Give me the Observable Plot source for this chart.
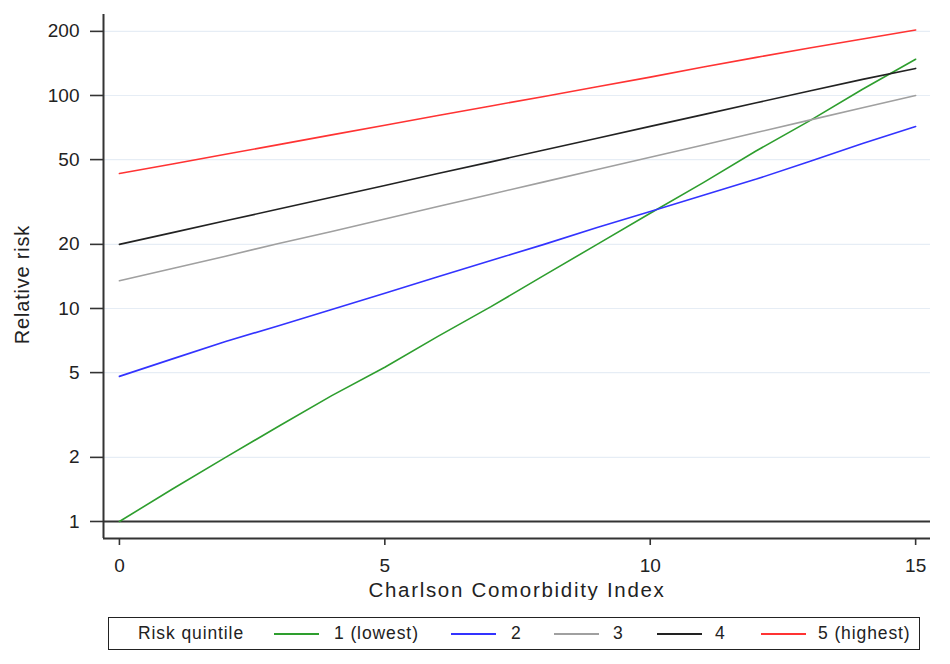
<!DOCTYPE html>
<html>
<head>
<meta charset="utf-8">
<script src="https://cdn.jsdelivr.net/npm/d3@7"></script>
<script src="https://cdn.jsdelivr.net/npm/@observablehq/plot@0.6"></script>
<style>
  html, body { margin: 0; padding: 0; background: #fff; }
  #wrap { position: relative; width: 950px; height: 664px; font-family: "Liberation Sans", Arial, sans-serif; color: #222; }
  #legend { position: absolute; left: 108px; top: 617px; width: 810px; height: 31px; border: 1.5px solid #222; box-sizing: content-box; }
  .lg { position: absolute; top: 0; height: 31px; line-height: 31px; font-size: 17.5px; letter-spacing: 0.9px; white-space: nowrap; }
  .sw { position: absolute; top: 15px; height: 2px; width: 45px; }
</style>
</head>
<body>
<div id="wrap"></div>
<script>
// ---- data ----
const cci = [0,1,2,3,4,5,6,7,8,9,10,11,12,13,14,15];
const seriesNames = ["1 (lowest)", "2", "3", "4", "5 (highest)"];
const seriesColors = ["#2e9e2e", "#3333ff", "#a0a0a0", "#222222", "#ff3333"];
const q1 = [1, 1.42, 2.0, 2.8, 3.9, 5.3, 7.4, 10.2, 14.3, 20, 28, 39, 55, 76, 107, 148];
const q2 = [4.8, 5.8, 7.0, 8.3, 9.9, 11.8, 14.1, 16.8, 20, 24, 28.5, 34, 40.5, 49, 59.5, 71.5];
const q3 = [13.5, 15.4, 17.6, 20.2, 23.0, 26.3, 30.1, 34.4, 39.3, 44.9, 51.3, 58.6, 67, 76.6, 87.5, 100];
const q4 = [20, 22.7, 25.8, 29.3, 33.3, 37.8, 43, 48.8, 55.5, 63, 71.6, 81.3, 92.4, 105, 119, 134];
const q5 = [43, 47.7, 53, 58.8, 65.3, 72.5, 80.5, 89.3, 99, 110, 122, 136, 151, 167, 184, 203];
const yTicks = [1, 2, 5, 10, 20, 50, 100, 200];
const xTicks = [0, 5, 10, 15];
const xTitle = "Charlson Comorbidity Index";
const yTitle = "Relative risk";
const legendTitle = "Risk quintile";

const allSeries = [q1, q2, q3, q4, q5];
const rows = [];
allSeries.forEach((vals, i) => vals.forEach((v, j) => rows.push({x: cci[j], y: v, s: seriesNames[i]})));

const xDomain = [-0.3, 15.28];
const yDomain = [0.832, 240];

const chart = Plot.plot({
  width: 950,
  height: 600,
  marginLeft: 103,
  marginRight: 20,
  marginTop: 14,
  marginBottom: 62,
  style: { fontFamily: "Liberation Sans, Arial, sans-serif", color: "#222", background: "#fff" },
  x: { domain: xDomain, ticks: xTicks, label: null },
  y: { type: "log", domain: yDomain, ticks: yTicks, label: null },
  color: { domain: seriesNames, range: seriesColors },
  marks: [
    Plot.ruleY(yTicks.filter(d => d !== 1), { stroke: "#e6edf5", strokeWidth: 1.2 }),
    Plot.ruleY([1], { stroke: "#333", strokeWidth: 1.8 }),
    Plot.line(rows, { x: "x", y: "y", z: "s", stroke: "s", strokeWidth: 1.6 }),
    Plot.ruleX([xDomain[0]], { stroke: "#333", strokeWidth: 2 }),
    Plot.ruleY([yDomain[0]], { stroke: "#333", strokeWidth: 2 }),
    Plot.axisY({ ticks: yTicks, tickSize: 13, tickPadding: 11, tickFormat: () => "", stroke: "#333", strokeWidth: 1.6, label: null }),
    Plot.text(yTicks, { y: d => d, text: d => String(d), frameAnchor: "left", textAnchor: "end", dx: -24, fontSize: 19, fill: "#222" }),
    Plot.axisX({ ticks: xTicks, tickSize: 7, tickPadding: 13, fontSize: 19, stroke: "#333", strokeWidth: 1.6, label: null }),
    Plot.text([xTitle], { frameAnchor: "bottom", lineAnchor: "middle", textAnchor: "middle", dy: 52, fontSize: 20.5, fill: "#222" }),
    Plot.text([yTitle], { frameAnchor: "left", textAnchor: "middle", lineAnchor: "middle", dx: -81, dy: 8, rotate: -90, fontSize: 20, fill: "#222" })
  ]
});
d3.select(chart).selectAll("text").filter(function(){ return this.textContent === xTitle; }).attr("letter-spacing", "1.7");
d3.select(chart).selectAll("text").filter(function(){ return this.textContent === yTitle; }).attr("letter-spacing", "0.8");

const wrap = document.getElementById("wrap");
wrap.appendChild(chart);

// ---- legend (HTML below the SVG) ----
const legend = document.createElement("div");
legend.id = "legend";
wrap.appendChild(legend);
const boxLeft = 108;
const swatchX = [273, 450, 553, 656, 760];
const labelX = [333, 510, 612, 714, 817];
const t = document.createElement("div");
t.className = "lg"; t.textContent = legendTitle; t.style.left = (137 - boxLeft) + "px";
legend.appendChild(t);
seriesNames.forEach((n, i) => {
  const sw = document.createElement("div");
  sw.className = "sw"; sw.style.left = (swatchX[i] - boxLeft) + "px"; sw.style.background = seriesColors[i];
  legend.appendChild(sw);
  const lb = document.createElement("div");
  lb.className = "lg"; lb.textContent = n; lb.style.left = (labelX[i] - boxLeft) + "px";
  legend.appendChild(lb);
});
</script>
</body>
</html>
